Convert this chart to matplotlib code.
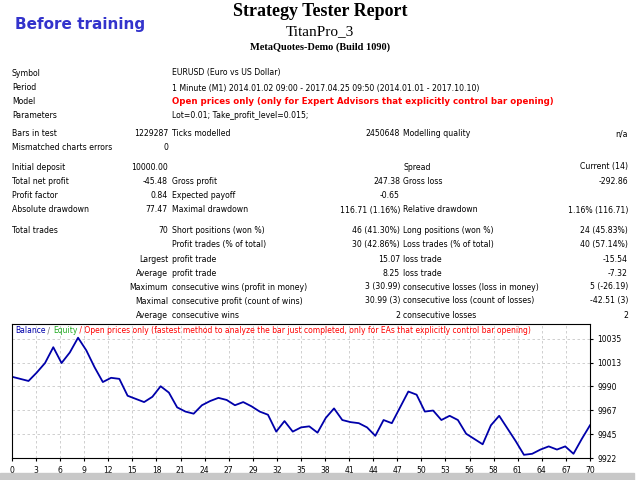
import numpy as np
import matplotlib.pyplot as plt

# balance per trade
trades = list(range(71))
balance = [9999, 9997, 9995, 10003, 10012, 10027, 10012, 10022, 10036, 10024,
           10008, 9994, 9998, 9997, 9981, 9978, 9975, 9980, 9990, 9984,
           9970, 9966, 9964, 9972, 9976, 9979, 9977, 9972, 9975, 9971,
           9966, 9963, 9947, 9957, 9947, 9951, 9952, 9946, 9960, 9969,
           9958, 9956, 9955, 9951, 9943, 9958, 9955, 9970, 9985, 9982,
           9966, 9967, 9958, 9962, 9958, 9945, 9940, 9935, 9953, 9962,
           9950, 9938, 9925, 9926, 9930, 9933, 9930, 9933, 9926, 9940, 9953]
x_labels = ["0", "3", "6", "9", "12", "15", "18", "21", "24", "27", "29", "32", "35",
            "38", "41", "44", "47", "50", "53", "56", "58", "61", "64", "67", "70"]
y_labels = ["9922", "9945", "9967", "9990", "10013", "10035"]

# report rows: (y px, label, value, label2, value2, label3, value3)
rows = [
    (73, "Symbol", None, "EURUSD (Euro vs US Dollar)", None, None, None),
    (88, "Period", None, "1 Minute (M1) 2014.01.02 09:00 - 2017.04.25 09:50 (2014.01.01 - 2017.10.10)", None, None, None),
    (102, "Model", None, "Open prices only (only for Expert Advisors that explicitly control bar opening)", None, None, None),
    (116, "Parameters", None, "Lot=0.01; Take_profit_level=0.015;", None, None, None),
    (134, "Bars in test", "1229287", "Ticks modelled", "2450648", "Modelling quality", "n/a"),
    (148, "Mismatched charts errors", "0", None, None, None, None),
    (167, "Initial deposit", "10000.00", None, None, "Spread", "Current (14)"),
    (181, "Total net profit", "-45.48", "Gross profit", "247.38", "Gross loss", "-292.86"),
    (196, "Profit factor", "0.84", "Expected payoff", "-0.65", None, None),
    (210, "Absolute drawdown", "77.47", "Maximal drawdown", "116.71 (1.16%)", "Relative drawdown", "1.16% (116.71)"),
    (230, "Total trades", "70", "Short positions (won %)", "46 (41.30%)", "Long positions (won %)", "24 (45.83%)"),
    (244, None, None, "Profit trades (% of total)", "30 (42.86%)", "Loss trades (% of total)", "40 (57.14%)"),
    (259, None, "Largest", "profit trade", "15.07", "loss trade", "-15.54"),
    (273, None, "Average", "profit trade", "8.25", "loss trade", "-7.32"),
    (287, None, "Maximum", "consecutive wins (profit in money)", "3 (30.99)", "consecutive losses (loss in money)", "5 (-26.19)"),
    (301, None, "Maximal", "consecutive profit (count of wins)", "30.99 (3)", "consecutive loss (count of losses)", "-42.51 (3)"),
    (315, None, "Average", "consecutive wins", "2", "consecutive losses", "2"),
]

W, H = 640, 480
fig = plt.figure(figsize=(6.4, 4.8), dpi=100)


def put(x, y, s, **kw):
    fig.text(x / W, 1 - y / H, s, va="center", **kw)


put(320, 12, "Strategy Tester Report", ha="center", fontsize=13, fontweight="bold", family="Liberation Serif")
put(320, 32, "TitanPro_3", ha="center", fontsize=11, family="Liberation Serif")
put(320, 47, "MetaQuotes-Demo (Build 1090)", ha="center", fontsize=7.5, fontweight="bold", family="Liberation Serif")
put(15, 25, "Before training", ha="left", fontsize=11, fontweight="bold", color="#3333cc")

fs = 5.6
for y, l1, v1, l2, v2, l3, v3 in rows:
    if l1:
        put(12, y, l1, ha="left", fontsize=fs)
    if v1:
        put(168, y, v1, ha="right", fontsize=fs)
    if l2:
        red = l1 == "Model"
        put(172, y, l2, ha="left", fontsize=fs + (0.6 if red else 0),
            color="red" if red else "black", fontweight="bold" if red else "normal")
    if v2:
        put(400, y, v2, ha="right", fontsize=fs)
    if l3:
        put(403, y, l3, ha="left", fontsize=fs)
    if v3:
        put(628, y, v3, ha="right", fontsize=fs)

ax = fig.add_axes([12 / W, 1 - 458 / H, (590 - 12) / W, (458 - 324) / H])
ax.plot(trades, balance, color="#0000aa", lw=1.3)
ax.set_xlim(0, 70)
ax.set_ylim(9922, 10049)
ax.set_xticks(np.linspace(0, 70, len(x_labels)))
ax.set_xticklabels(x_labels)
ax.set_yticks(np.linspace(9922, 10035, len(y_labels)))
ax.set_yticklabels(y_labels)
ax.yaxis.tick_right()
ax.tick_params(labelsize=5.5, length=2)
ax.grid(True, color="#c8c8c8", ls=(0, (3, 3)), lw=0.6)

# chart header, pieces chained one after another
parts = [("Balance", "#0000aa"), (" / ", "#666666"), ("Equity", "#22aa22"),
         (" / Open prices only (fastest method to analyze the bar just completed, "
          "only for EAs that explicitly control bar opening)", "red")]
prev = ax.text(0.005, 0.985, parts[0][0], color=parts[0][1], fontsize=5.5,
               transform=ax.transAxes, va="top")
for s, c in parts[1:]:
    prev = ax.annotate(s, xy=(1, 0), xycoords=prev, va="bottom", ha="left",
                       color=c, fontsize=5.5)

fig.patches.append(plt.Rectangle((0, 0), 0.99, 7 / H, transform=fig.transFigure, color="#c8c8c8"))

fig.savefig("out.png", dpi=100)
